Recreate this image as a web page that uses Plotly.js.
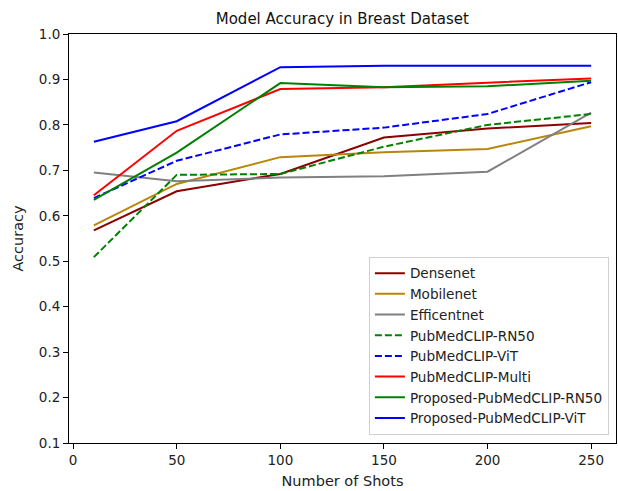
<!DOCTYPE html>
<html>
<head>
<meta charset="utf-8">
<script src="https://cdn.plot.ly/plotly-3.0.1.min.js"></script>
<style>html,body{margin:0;padding:0;background:#fff;}#chart{width:618px;height:491px;}</style>
</head>
<body>
<div id="chart"></div>
<script>
const shots = [10, 50, 100, 150, 200, 250];
const densenet = [0.568, 0.654, 0.692, 0.772, 0.792, 0.804];
const mobilenet = [0.579, 0.670, 0.729, 0.740, 0.747, 0.797];
const efficentnet = [0.695, 0.676, 0.684, 0.687, 0.697, 0.827];
const pubmedRN50 = [0.509, 0.690, 0.692, 0.752, 0.800, 0.824];
const pubmedViT = [0.639, 0.721, 0.779, 0.794, 0.824, 0.894];
const pubmedMulti = [0.645, 0.787, 0.879, 0.883, 0.893, 0.902];
const proposedRN50 = [0.635, 0.739, 0.892, 0.883, 0.885, 0.897];
const proposedViT = [0.763, 0.808, 0.927, 0.930, 0.930, 0.930];
const seriesNames = ['Densenet','Mobilenet','Efficentnet','PubMedCLIP-RN50','PubMedCLIP-ViT','PubMedCLIP-Multi','Proposed-PubMedCLIP-RN50','Proposed-PubMedCLIP-ViT'];
const seriesValues = [densenet, mobilenet, efficentnet, pubmedRN50, pubmedViT, pubmedMulti, proposedRN50, proposedViT];
const seriesColors = ['#8b0000','#b8860b','#808080','#008000','#0000ff','#ff0000','#008000','#0000ff'];
const seriesDash = ['solid','solid','solid','7px,3px','7px,3px','solid','solid','solid'];

const font = 'DejaVu Sans, sans-serif';
const traces = seriesNames.map((n, i) => ({
  x: shots, y: seriesValues[i], name: n, type: 'scatter', mode: 'lines',
  line: {color: seriesColors[i], width: 2, dash: seriesDash[i]}
}));

const layout = {
  width: 618, height: 491,
  margin: {l: 69, r: 2, t: 34, b: 48},
  paper_bgcolor: '#fff', plot_bgcolor: '#fff',
  font: {family: font, size: 13.5, color: '#000'},
  title: {text: 'Model Accuracy in Breast Dataset', font: {family: font, size: 15, color: '#111'}, x: 0.554, xanchor: 'center', y: 0.961, yanchor: 'middle'},
  xaxis: {
    range: [-2, 262], tickvals: [0, 50, 100, 150, 200, 250],
    showgrid: false, zeroline: false, showline: true, linecolor: '#000', linewidth: 1, mirror: true,
    ticks: 'outside', ticklen: 5, tickcolor: '#000',
    tickfont: {family: font, size: 13.5, color: '#222'},
    title: {text: 'Number of Shots', font: {family: font, size: 14.5, color: '#222'}, standoff: 8}
  },
  yaxis: {
    range: [0.1, 1.0], tickvals: [0.1,0.2,0.3,0.4,0.5,0.6,0.7,0.8,0.9,1.0], tickformat: '.1f',
    showgrid: false, zeroline: false, showline: true, linecolor: '#000', linewidth: 1, mirror: true,
    ticks: 'outside', ticklen: 5, tickcolor: '#000',
    tickfont: {family: font, size: 13.5, color: '#222'},
    title: {text: 'Accuracy', font: {family: font, size: 14.5, color: '#222'}, standoff: 11}
  },
  legend: {
    x: 0.987, y: 0.02, xanchor: 'right', yanchor: 'bottom',
    bgcolor: 'rgba(255,255,255,0.85)', bordercolor: '#d0d0d0', borderwidth: 1,
    font: {family: font, size: 13.6, color: '#222'}
  },
  showlegend: true
};
Plotly.newPlot('chart', traces, layout, {staticPlot: true, displayModeBar: false});
</script>
</body>
</html>
